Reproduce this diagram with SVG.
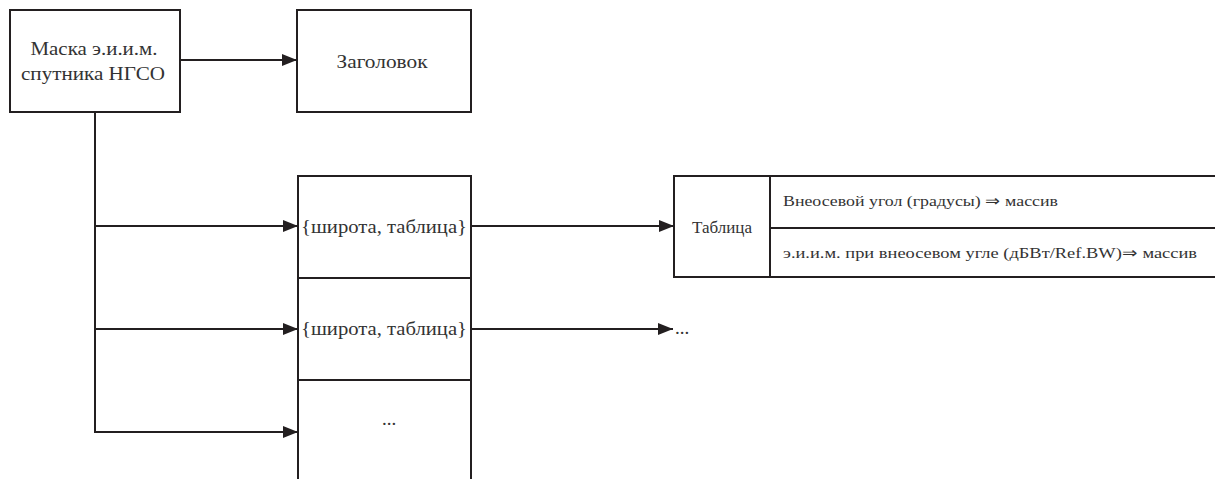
<svg xmlns="http://www.w3.org/2000/svg" width="1215" height="479" viewBox="0 0 1215 479">
<defs>
<marker id="arr" markerWidth="15" markerHeight="12" refX="15" refY="6" orient="auto" markerUnits="userSpaceOnUse">
<path d="M0,0 L15,6 L0,12 Z" fill="#231f20"/>
</marker>
<style>
.box{fill:#fff;stroke:#231f20;stroke-width:2}
.ln{fill:none;stroke:#231f20;stroke-width:2}
text{font-family:"Liberation Serif","Times New Roman",serif;fill:#333}
.m{font-size:19px;text-anchor:middle}
.s{font-size:15px}
</style>
</defs>
<rect width="1215" height="479" fill="#fff"/>
<g id="mask">
<rect class="box" x="10" y="10" width="170" height="102"/>
<text class="m" x="94" y="55" textLength="127" lengthAdjust="spacingAndGlyphs">Маска э.и.и.м.</text>
<text class="m" x="93" y="80" textLength="144" lengthAdjust="spacingAndGlyphs">спутника НГСО</text>
</g>
<g id="header">
<rect class="box" x="297" y="10" width="174" height="102"/>
<text class="m" x="382" y="68" textLength="91" lengthAdjust="spacingAndGlyphs">Заголовок</text>
</g>
<g id="stack">
<path class="ln" d="M298,479 V176 H471 V479 M298,278 H471 M298,380 H471"/>
<text class="m" x="384" y="233" textLength="166" lengthAdjust="spacingAndGlyphs">{широта, таблица}</text>
<text class="m" x="384" y="335" textLength="166" lengthAdjust="spacingAndGlyphs">{широта, таблица}</text>
<text class="m" x="389" y="425">...</text>
</g>
<g id="table">
<path class="ln" d="M1216,176 H674 V277 H1216 M770,176 V277 M770,228 H1216"/>
<text x="722" y="233" font-size="16" text-anchor="middle" textLength="60" lengthAdjust="spacingAndGlyphs">Таблица</text>
<text class="s" x="783" y="206" textLength="275" lengthAdjust="spacingAndGlyphs">Внеосевой угол (градусы) ⇒ массив</text>
<text class="s" x="783" y="258" textLength="414" lengthAdjust="spacingAndGlyphs">э.и.и.м. при внеосевом угле (дБВт/Ref.BW)⇒ массив</text>
</g>
<g id="more">
<text x="675" y="334" font-size="19">...</text>
</g>
<g id="connectors">
<path class="ln" d="M180,60 H297" marker-end="url(#arr)"/>
<path class="ln" d="M95,112 V432"/>
<path class="ln" d="M94,226 H298" marker-end="url(#arr)"/>
<path class="ln" d="M94,329 H298" marker-end="url(#arr)"/>
<path class="ln" d="M94,432 H298" marker-end="url(#arr)"/>
<path class="ln" d="M471,226 H674" marker-end="url(#arr)"/>
<path class="ln" d="M471,329 H673" marker-end="url(#arr)"/>
</g>
</svg>
